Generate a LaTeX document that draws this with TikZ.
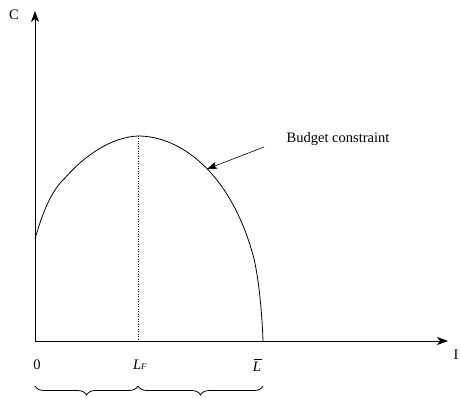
\documentclass[tikz,border=0pt]{standalone}
\usepackage{fontspec}
\setmainfont{Liberation Serif}
\usetikzlibrary{arrows.meta,decorations.pathreplacing}
\begin{document}
\begin{tikzpicture}[x=1pt,y=-1pt,
  axis/.style={line width=0.8pt,-{Stealth[length=11pt,width=8pt,inset=3pt]}},
  curve/.style={line width=0.8pt},
  lbl/.style={font=\fontsize{14.5}{16}\selectfont, inner sep=0pt},
  bracestyle/.style={decorate,decoration={brace,mirror,amplitude=9pt},line width=0.8pt}]
\useasboundingbox (0,0) rectangle (460,398);
\coordinate (O) at (35,341);
\coordinate (ytop) at (35,11);
\coordinate (xend) at (448,341);
\draw[axis] (O) -- (ytop);
\draw[axis] (O) -- (xend);
\node[lbl] (C) at (14,15) {C};
\node[lbl] (I) at (456,355) {I};
\draw[curve] (35,239) .. controls (42,215) and (50,192) .. (65,178)
  .. controls (85,155) and (112,137) .. (138,136)
  .. controls (180,136) and (230,172) .. (253,255)
  .. controls (258,273) and (262,310) .. (263,341);
\coordinate (peak) at (138,136);
\coordinate (peakfoot) at (138,341);
\draw[dotted,line width=0.5pt] (peak) -- (peakfoot);
\node[lbl] (bc) at (338,139) {Budget constraint};
\coordinate (bctail) at (264,147);
\coordinate (bctip) at (207,169);
\draw[line width=0.6pt,-{Stealth[length=10pt,width=7pt,inset=2pt]}] (bctail) -- (bctip);
\node[lbl] (zero) at (37,365) {0};
\node[lbl] (LF) at (140,365) {\textit{L}{\fontsize{9}{10}\selectfont\textit{F}}};
\node[lbl] (Lbar) at (257,367) {\textit{L}};
\draw[line width=0.6pt] ([xshift=-3pt,yshift=3pt]Lbar.north) -- ([xshift=5pt,yshift=3pt]Lbar.north);
\coordinate (b0) at (35,386);
\coordinate (b1) at (138,386);
\coordinate (b2) at (263,386);
\draw[bracestyle] (b0) -- (b1);
\draw[bracestyle] (b1) -- (b2);
\end{tikzpicture}
\end{document}
